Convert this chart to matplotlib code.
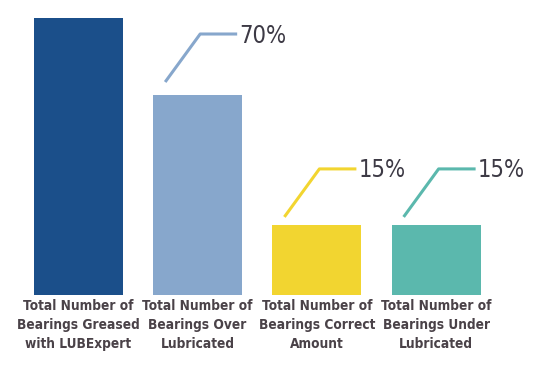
import matplotlib
matplotlib.use("Agg")
import matplotlib.pyplot as plt

# data (bar heights relative to the first bar)
categories = ["Total Number of\nBearings Greased\nwith LUBExpert",
              "Total Number of\nBearings Over\nLubricated",
              "Total Number of\nBearings Correct\nAmount",
              "Total Number of\nBearings Under\nLubricated"]
heights = [100, 72.2, 25.3, 25.3]
callouts = [None, "70%", "15%", "15%"]
colors = ["#1b4f8a", "#87a7cc", "#f2d530", "#5bb8ad"]
gap_px = [0, 13, 8, 8]   # space between bar top and start of callout line

plt.rcParams['font.family'] = ['DejaVu Sans']
plt.rcParams['font.stretch'] = 'condensed'

fig = plt.figure(figsize=(5.5, 3.71), dpi=100)
W, H = 550, 371
left_px, right_px = 18.8, 495.7
base_px, top_px = 76, 353
ax = fig.add_axes([left_px / W, base_px / H, (right_px - left_px) / W, (top_px - base_px) / H])
ax.set_xlim(-0.5, 3.5)
ax.set_ylim(0, 100)
ax.axis("off")

bw = 0.746
x = list(range(len(categories)))
ax.bar(x, heights, width=bw, color=colors)

# pixels -> data units
sx = 4.0 / (right_px - left_px)
sy = 100.0 / (top_px - base_px)

for i, (h, lab) in enumerate(zip(heights, callouts)):
    ax.text(i, -1.3, categories[i], ha="center", va="top", fontsize=9.8,
            fontweight="bold", color="#4a4248", linespacing=1.45)
    if lab is None:
        continue
    x0 = i - bw / 2 + 12 * sx
    y0 = h + gap_px[i] * sy
    x1 = x0 + 35 * sx
    y1 = y0 + 48 * sy
    x2 = x1 + 37 * sx
    ax.plot([x0, x1, x2], [y0, y1, y1], color=colors[i], lw=2.2,
            solid_capstyle="butt", clip_on=False)
    ax.text(x2 + 2 * sx, y1 - 1.5 * sy, lab, ha="left", va="center",
            fontsize=17, color="#3d3a45")

fig.savefig("out.png", dpi=100)
